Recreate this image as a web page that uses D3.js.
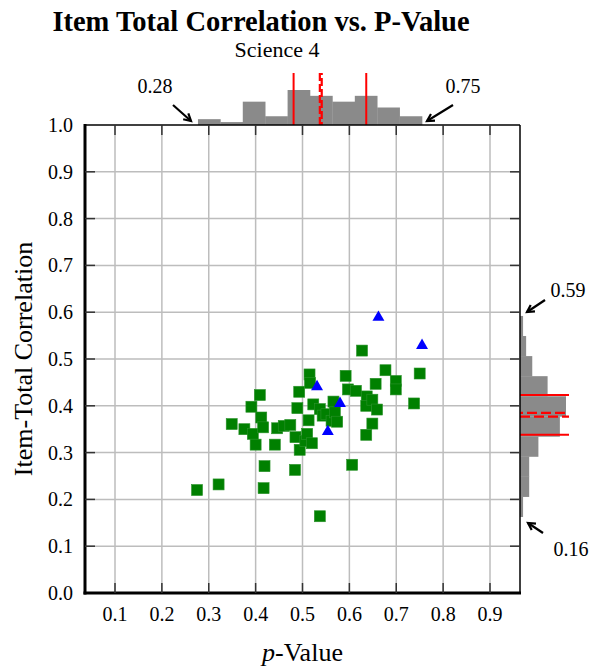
<!DOCTYPE html>
<html><head><meta charset="utf-8">
<script src="https://cdn.jsdelivr.net/npm/d3@7"></script>
<style>body{margin:0;background:#fff}svg{display:block}text{font-family:"Liberation Serif","Times New Roman",serif;fill:#000}</style>
</head><body>
<script>
// ---- data ----
const title = "Item Total Correlation vs. P-Value";
const subtitle = "Science 4";
const xTicks = [0.1,0.2,0.3,0.4,0.5,0.6,0.7,0.8,0.9];
const yTicks = [0.0,0.1,0.2,0.3,0.4,0.5,0.6,0.7,0.8,0.9,1.0];
// green squares
const itemP = [0.275,0.321,0.349,0.376,0.391,0.394,0.400,0.409,0.412,0.416,0.417,0.419,0.441,0.446,0.460,0.474,0.484,0.485,0.489,0.493,0.494,0.506,0.510,0.513,0.515,0.516,0.520,0.523,0.537,0.537,0.543,0.551,0.562,0.566,0.569,0.574,0.592,0.597,0.606,0.614,0.627,0.636,0.637,0.636,0.649,0.649,0.656,0.659,0.677,0.699,0.699,0.738,0.750];
const itemR = [0.220,0.232,0.361,0.350,0.398,0.340,0.317,0.423,0.375,0.354,0.224,0.271,0.317,0.352,0.357,0.359,0.263,0.333,0.395,0.430,0.306,0.325,0.340,0.369,0.467,0.449,0.320,0.403,0.393,0.164,0.379,0.382,0.368,0.409,0.386,0.366,0.464,0.435,0.274,0.432,0.518,0.338,0.420,0.400,0.413,0.362,0.447,0.392,0.476,0.453,0.435,0.405,0.469];
// blue triangles
const flagP = [0.662,0.755,0.531,0.580,0.554];
const flagR = [0.591,0.531,0.443,0.407,0.347];
// top histogram (p-value)
const pBinRange = [0.277, 0.755];
const pCounts = [2,1,8,3,12,10,8,10,6,3];
const pLines = [0.481, 0.636];
const pDashed = [0.537, 0.541];
// right histogram (item-total correlation)
const rBinRange = [0.163, 0.592];
const rCounts = [1,3,3,6,13,15,9,4,2,1];
const rLines = [0.338, 0.423];
const rDashed = [0.377, 0.385];
const annotations = [
  {label:"0.28", value:0.28},{label:"0.75", value:0.75},
  {label:"0.59", value:0.59},{label:"0.16", value:0.16}
];

// ---- layout ----
const W = 592, H = 671;
const L = 85, R = 520, T = 125, B = 593;
const svg = d3.select("body").append("svg").attr("width", W).attr("height", H);

const x = d3.scaleLinear().domain([0.036, 0.964]).range([L, R]);
const y = d3.scaleLinear().domain([0, 1]).range([B, T]);

// grid
svg.append("g").selectAll("line").data(xTicks).join("line")
  .attr("x1", d => x(d)).attr("x2", d => x(d)).attr("y1", T).attr("y2", B)
  .attr("stroke", "#bdbdbd").attr("stroke-width", 1.5);
svg.append("g").selectAll("line").data(yTicks.filter(d => d > 0 && d < 1)).join("line")
  .attr("y1", d => y(d)).attr("y2", d => y(d)).attr("x1", L).attr("x2", R)
  .attr("stroke", "#bdbdbd").attr("stroke-width", 1.5);

// histograms
const nP = pCounts.length;
const pw = (pBinRange[1] - pBinRange[0]) / nP;
const hTop = d3.scaleLinear().domain([0, 12]).range([T, T - 35]);
svg.append("g").selectAll("rect").data(pCounts).join("rect")
  .attr("x", (d, i) => x(pBinRange[0] + i * pw))
  .attr("width", (d, i) => x(pBinRange[0] + (i + 1) * pw) - x(pBinRange[0] + i * pw) + 0.3)
  .attr("y", d => hTop(d)).attr("height", d => T - hTop(d))
  .attr("fill", "#8a8a8a");

const nR = rCounts.length;
const rw = (rBinRange[1] - rBinRange[0]) / nR;
const wRight = d3.scaleLinear().domain([0, 15]).range([R, R + 46]);
svg.append("g").selectAll("rect").data(rCounts).join("rect")
  .attr("y", (d, i) => y(rBinRange[0] + (i + 1) * rw))
  .attr("height", (d, i) => y(rBinRange[0] + i * rw) - y(rBinRange[0] + (i + 1) * rw) + 0.3)
  .attr("x", R).attr("width", d => wRight(d) - R)
  .attr("fill", "#8a8a8a");

// red lines
const topLen = 52, rightLen = 49;
svg.append("g").selectAll("line").data(pLines).join("line")
  .attr("x1", d => x(d)).attr("x2", d => x(d)).attr("y1", T).attr("y2", T - topLen)
  .attr("stroke", "#ff0000").attr("stroke-width", 2);
svg.append("g").selectAll("line").data(pDashed).join("line")
  .attr("x1", d => x(d)).attr("x2", d => x(d)).attr("y1", T).attr("y2", T - topLen)
  .attr("stroke", "#ff0000").attr("stroke-width", 2.2)
  .attr("stroke-dasharray", "8,3").attr("stroke-dashoffset", (d, i) => i * 5);
svg.append("g").selectAll("line").data(rLines).join("line")
  .attr("y1", d => y(d)).attr("y2", d => y(d)).attr("x1", R).attr("x2", R + rightLen)
  .attr("stroke", "#ff0000").attr("stroke-width", 2);
svg.append("g").selectAll("line").data(rDashed).join("line")
  .attr("y1", d => y(d)).attr("y2", d => y(d)).attr("x1", R).attr("x2", R + rightLen)
  .attr("stroke", "#ff0000").attr("stroke-width", 2.2)
  .attr("stroke-dasharray", "10,4").attr("stroke-dashoffset", (d, i) => i * 7);

// points
const sq = 11;
svg.append("g").selectAll("rect").data(itemP.map((p, i) => [p, itemR[i]])).join("rect")
  .attr("x", d => x(d[0]) - sq / 2).attr("y", d => y(d[1]) - sq / 2)
  .attr("width", sq).attr("height", sq)
  .attr("fill", "#008000").attr("stroke", "#2a922a").attr("stroke-width", 0.6);
svg.append("g").selectAll("path").data(flagP.map((p, i) => [p, flagR[i]])).join("path")
  .attr("d", d3.symbol(d3.symbolTriangle, 62))
  .attr("transform", d => `translate(${x(d[0])},${y(d[1]) + 1})`)
  .attr("fill", "#0000ff");

// frame
svg.append("line").attr("x1", L).attr("x2", R).attr("y1", T).attr("y2", T).attr("stroke", "#000").attr("stroke-width", 1.5);
svg.append("line").attr("x1", R).attr("x2", R).attr("y1", T).attr("y2", B).attr("stroke", "#000").attr("stroke-width", 1.5);
svg.append("line").attr("x1", L).attr("x2", L).attr("y1", T - 1).attr("y2", B + 1.5).attr("stroke", "#000").attr("stroke-width", 3);
svg.append("line").attr("x1", L - 1.5).attr("x2", R + 1).attr("y1", B).attr("y2", B).attr("stroke", "#000").attr("stroke-width", 3);

// ticks
const tk = 10, tkc = "#333";
const innerY = yTicks.filter(d => d > 0 && d < 1);
svg.append("g").selectAll("line").data(xTicks).join("line")
  .attr("x1", d => x(d)).attr("x2", d => x(d)).attr("y1", B).attr("y2", B - tk).attr("stroke", tkc).attr("stroke-width", 1.5);
svg.append("g").selectAll("line").data(xTicks).join("line")
  .attr("x1", d => x(d)).attr("x2", d => x(d)).attr("y1", T).attr("y2", T + tk).attr("stroke", tkc).attr("stroke-width", 1.5);
svg.append("g").selectAll("line").data(innerY).join("line")
  .attr("y1", d => y(d)).attr("y2", d => y(d)).attr("x1", L).attr("x2", L + tk).attr("stroke", tkc).attr("stroke-width", 1.5);
svg.append("g").selectAll("line").data(innerY).join("line")
  .attr("y1", d => y(d)).attr("y2", d => y(d)).attr("x1", R).attr("x2", R - tk).attr("stroke", tkc).attr("stroke-width", 1.5);

// tick labels
svg.append("g").selectAll("text").data(xTicks).join("text")
  .attr("x", d => x(d)).attr("y", 621).attr("text-anchor", "middle").attr("font-size", 20)
  .text(d => d3.format(".1f")(d));
svg.append("g").selectAll("text").data(yTicks).join("text")
  .attr("x", 73).attr("y", d => y(d) + 7).attr("text-anchor", "end").attr("font-size", 20)
  .text(d => d3.format(".1f")(d));

// titles
svg.append("text").attr("x", 261).attr("y", 31).attr("text-anchor", "middle")
  .attr("font-size", 28.5).attr("font-weight", "bold").text(title);
svg.append("text").attr("x", 277).attr("y", 57).attr("text-anchor", "middle")
  .attr("font-size", 22).text(subtitle);
const xl = svg.append("text").attr("x", (L + R) / 2).attr("y", 661).attr("text-anchor", "middle").attr("font-size", 26);
xl.append("tspan").attr("font-style", "italic").text("p");
xl.append("tspan").text("-Value");
svg.append("text").attr("transform", `translate(32,${(T + B) / 2}) rotate(-90)`)
  .attr("text-anchor", "middle").attr("font-size", 26).text("Item-Total Correlation");

// annotations (min/max arrows)
const annPos = [
  {tx:155, ty:93, ax:[173,105], hx:[191,121]},
  {tx:463, ty:93, ax:[453,105], hx:[427,121]},
  {tx:568, ty:297, ax:[545,300], hx:[527,312]},
  {tx:571, ty:556, ax:[543,533], hx:[528,523]}
];
annotations.forEach((a, i) => {
  const p = annPos[i];
  svg.append("text").attr("x", p.tx).attr("y", p.ty).attr("text-anchor", "middle").attr("font-size", 20).text(a.label);
  const [x0, y0] = p.ax, [x1, y1] = p.hx;
  const ang = Math.atan2(y1 - y0, x1 - x0), hl = 8, spread = 0.5;
  svg.append("line").attr("x1", x0).attr("y1", y0).attr("x2", x1).attr("y2", y1)
    .attr("stroke", "#000").attr("stroke-width", 2.2);
  svg.append("path")
    .attr("d", `M${x1 - hl * Math.cos(ang - spread)},${y1 - hl * Math.sin(ang - spread)}L${x1},${y1}L${x1 - hl * Math.cos(ang + spread)},${y1 - hl * Math.sin(ang + spread)}`)
    .attr("fill", "none").attr("stroke", "#000").attr("stroke-width", 2.2);
});
</script>
</body></html>
